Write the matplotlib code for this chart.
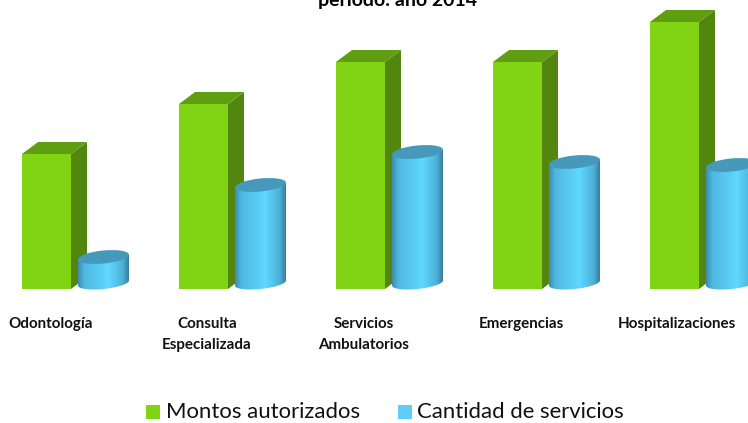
import numpy as np
import matplotlib.pyplot as plt
from matplotlib.colors import LinearSegmentedColormap
from matplotlib.patches import Ellipse, PathPatch, Polygon, Rectangle
from matplotlib.path import Path

plt.rcParams["font.family"] = ["Lato", "DejaVu Sans"]

categories = ["Odontología", "Consulta\nEspecializada", "Servicios\nAmbulatorios",
              "Emergencias", "Hospitalizaciones"]
montos = [135, 185, 227, 227, 267]
cantidad = [26, 98, 131, 121, 118]
series_names = ["Montos autorizados", "Cantidad de servicios"]
title = "periodo: año 2014"

GREEN_FRONT = "#80d414"
GREEN_SIDE = "#52860f"
GREEN_TOP = "#5f9e10"
BLUE_TOP = "#4699bb"
BLUE_LEGEND = "#5fcdf5"

W, H = 748, 423
BASE = 289          # baseline, pixels from the top
STEP = 157
BAR_X0 = 22
BAR_W = 49
DX, DY = 16, 12     # 3D depth of the bars
CYL_OFF = 56
CYL_W = 51
CYL_RY = 6
TILT = 0.1          # rise of the ellipses towards the right

blue_cmap = LinearSegmentedColormap.from_list(
    "cyl", [(0, "#3f8cae"), (0.12, "#4fb8e0"), (0.6, "#60d8ff"),
            (0.88, "#4db0d8"), (1, "#3a7d9c")])

fig = plt.figure(figsize=(W / 100, H / 100), dpi=100)
ax = fig.add_axes([0, 0, 1, 1])
ax.set_xlim(0, W)
ax.set_ylim(BASE - H, BASE)   # y = 0 is the baseline, one unit = one pixel
ax.axis("off")


def draw_bar(x, h):
    ax.add_patch(Polygon([(x + BAR_W, 0), (x + BAR_W + DX, DY), (x + BAR_W + DX, h + DY),
                          (x + BAR_W, h)], fc=GREEN_SIDE, ec="none", zorder=2))
    ax.add_patch(Polygon([(x, h), (x + DX, h + DY), (x + BAR_W + DX, h + DY),
                          (x + BAR_W, h)], fc=GREEN_TOP, ec="none", zorder=2))
    ax.add_patch(Rectangle((x, 0), BAR_W, h, fc=GREEN_FRONT, ec="none", zorder=3))


def draw_cylinder(x, h):
    rx = CYL_W / 2
    cx = x + rx
    y0 = CYL_RY
    t = np.linspace(np.pi, 2 * np.pi, 60)
    lower = np.column_stack([cx + rx * np.cos(t),
                             y0 + CYL_RY * np.sin(t) + TILT * rx * np.cos(t)])
    upper = np.array([[cx + rx, y0 + h + TILT * rx], [cx - rx, y0 + h - TILT * rx]])
    verts = np.vstack([lower, upper, lower[:1]])
    clip = PathPatch(Path(verts), fc="none", ec="none", transform=ax.transData)
    ax.add_patch(clip)
    grad = np.linspace(0, 1, 128).reshape(1, -1)
    im = ax.imshow(grad, cmap=blue_cmap, extent=(x, x + CYL_W, -2, h + 16),
                   aspect="auto", zorder=4)
    im.set_clip_path(clip)
    ax.add_patch(Ellipse((cx, y0 + h), CYL_W, 2 * CYL_RY + 1, angle=np.degrees(np.arctan(TILT)),
                         fc=BLUE_TOP, ec="none", zorder=5))


for i in range(len(categories)):
    draw_bar(BAR_X0 + i * STEP, montos[i])
    draw_cylinder(BAR_X0 + i * STEP + CYL_OFF, cantidad[i])

# imshow resets the limits
ax.set_xlim(0, W)
ax.set_ylim(BASE - H, BASE)
ax.set_aspect("auto")

label_x = [51, 207, 364, 521, 677]
for x, lab in zip(label_x, categories):
    ax.text(x, BASE - 317, lab, ha="center", va="top", fontsize=10.9, fontweight="bold",
            color="#111111", linespacing=1.6)

# the top of the title is cut off by the image edge in the original
ax.text(398, BASE - 6, title, ha="center", va="baseline", fontsize=14, fontweight="bold",
        color="black", clip_on=True)

# legend
for sq_x, txt_x, col, name in zip([146, 398], [166, 417], [GREEN_FRONT, BLUE_LEGEND], series_names):
    ax.add_patch(Rectangle((sq_x, BASE - 419), 14, 14, fc=col, ec="none"))
    ax.text(txt_x, BASE - 412, name, ha="left", va="center", fontsize=15.9, color="#111111")

fig.savefig("out.png", dpi=100)
